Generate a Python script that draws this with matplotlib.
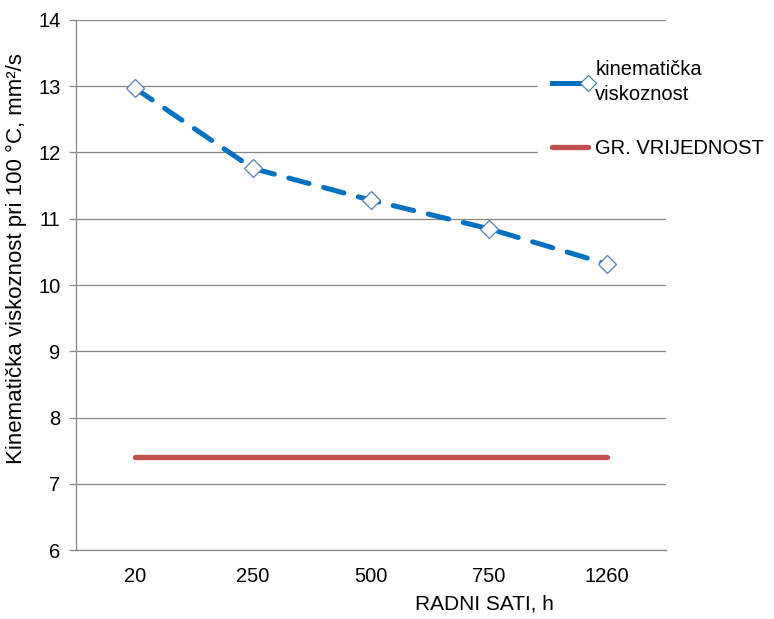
import matplotlib.pyplot as plt
from matplotlib.legend_handler import HandlerLine2D

plt.rcParams['font.family'] = ['Liberation Sans', 'DejaVu Sans']

# data
hours = ['20', '250', '500', '750', '1260']
viscosity = [12.97, 11.76, 11.28, 10.85, 10.32]
limit = [7.4, 7.4, 7.4, 7.4, 7.4]


class EndMarkerHandler(HandlerLine2D):
    # solid legend line with the marker at its right end, like in Excel
    def create_artists(self, *args, **kwargs):
        artists = super().create_artists(*args, **kwargs)
        for a in artists:
            if hasattr(a, 'set_markevery') and len(a.get_xdata()) == 3:
                a.set_markevery([2])
                a.set_linestyle('-')
                a.set_markersize(8)
        return artists


fig = plt.figure(figsize=(7.74, 6.19), dpi=100)
ax = fig.add_axes([0.098, 0.111, 0.762, 0.857])

x = range(len(hours))
blue, = ax.plot(x, viscosity, color='#0070C0', lw=3.6, ls=(0, (4.2, 3.0)),
                dash_capstyle='round',
                marker='D', markersize=9.5, markerfacecolor='white',
                markeredgecolor='#4F81BD', markeredgewidth=0.9,
                label='kinematička\nviskoznost', zorder=3)
red, = ax.plot(x, limit, color='#C0504D', lw=3.8, solid_capstyle='round',
               label='GR. VRIJEDNOST', zorder=3)

ax.set_xlim(-0.5, len(hours) - 0.5)
ax.set_ylim(6, 14)
ax.set_yticks(range(6, 15))
ax.set_xticks(list(x))
ax.set_xticklabels(hours)
ax.tick_params(axis='x', length=0, pad=12, labelsize=14.5)
ax.tick_params(axis='y', length=5, width=0.9, color='#878787', labelsize=14.5, pad=6)

ax.grid(axis='y', color='#878787', lw=0.9)
ax.set_axisbelow(True)
for s in ['top', 'right']:
    ax.spines[s].set_visible(False)
for s in ['left', 'bottom']:
    ax.spines[s].set_color('#878787')
    ax.spines[s].set_linewidth(0.9)

ax.set_ylabel('Kinematička viskoznost pri 100 °C, mm²/s', fontsize=16)
ax.yaxis.set_label_coords(-0.082, 0.549)
fig.text(484 / 774, 1 - 604 / 619, 'RADNI SATI, h', ha='center', va='center', fontsize=15)

leg = ax.legend(handles=[blue, red], loc='upper left',
                bbox_to_anchor=(538 / 774, 1 - 46 / 619), bbox_transform=fig.transFigure,
                frameon=True, fontsize=14.5, handlelength=1.8, handletextpad=0.35,
                labelspacing=1.75, borderaxespad=0, borderpad=0.7, numpoints=1,
                handler_map={blue: EndMarkerHandler()})
leg.get_texts()[0].set_linespacing(1.4)
leg.get_frame().set_edgecolor('white')
leg.get_frame().set_facecolor('white')
leg.get_frame().set_alpha(1)
leg.get_frame().set_boxstyle('square', pad=0)
leg.set_zorder(5)

fig.savefig('out.png', dpi=100)
